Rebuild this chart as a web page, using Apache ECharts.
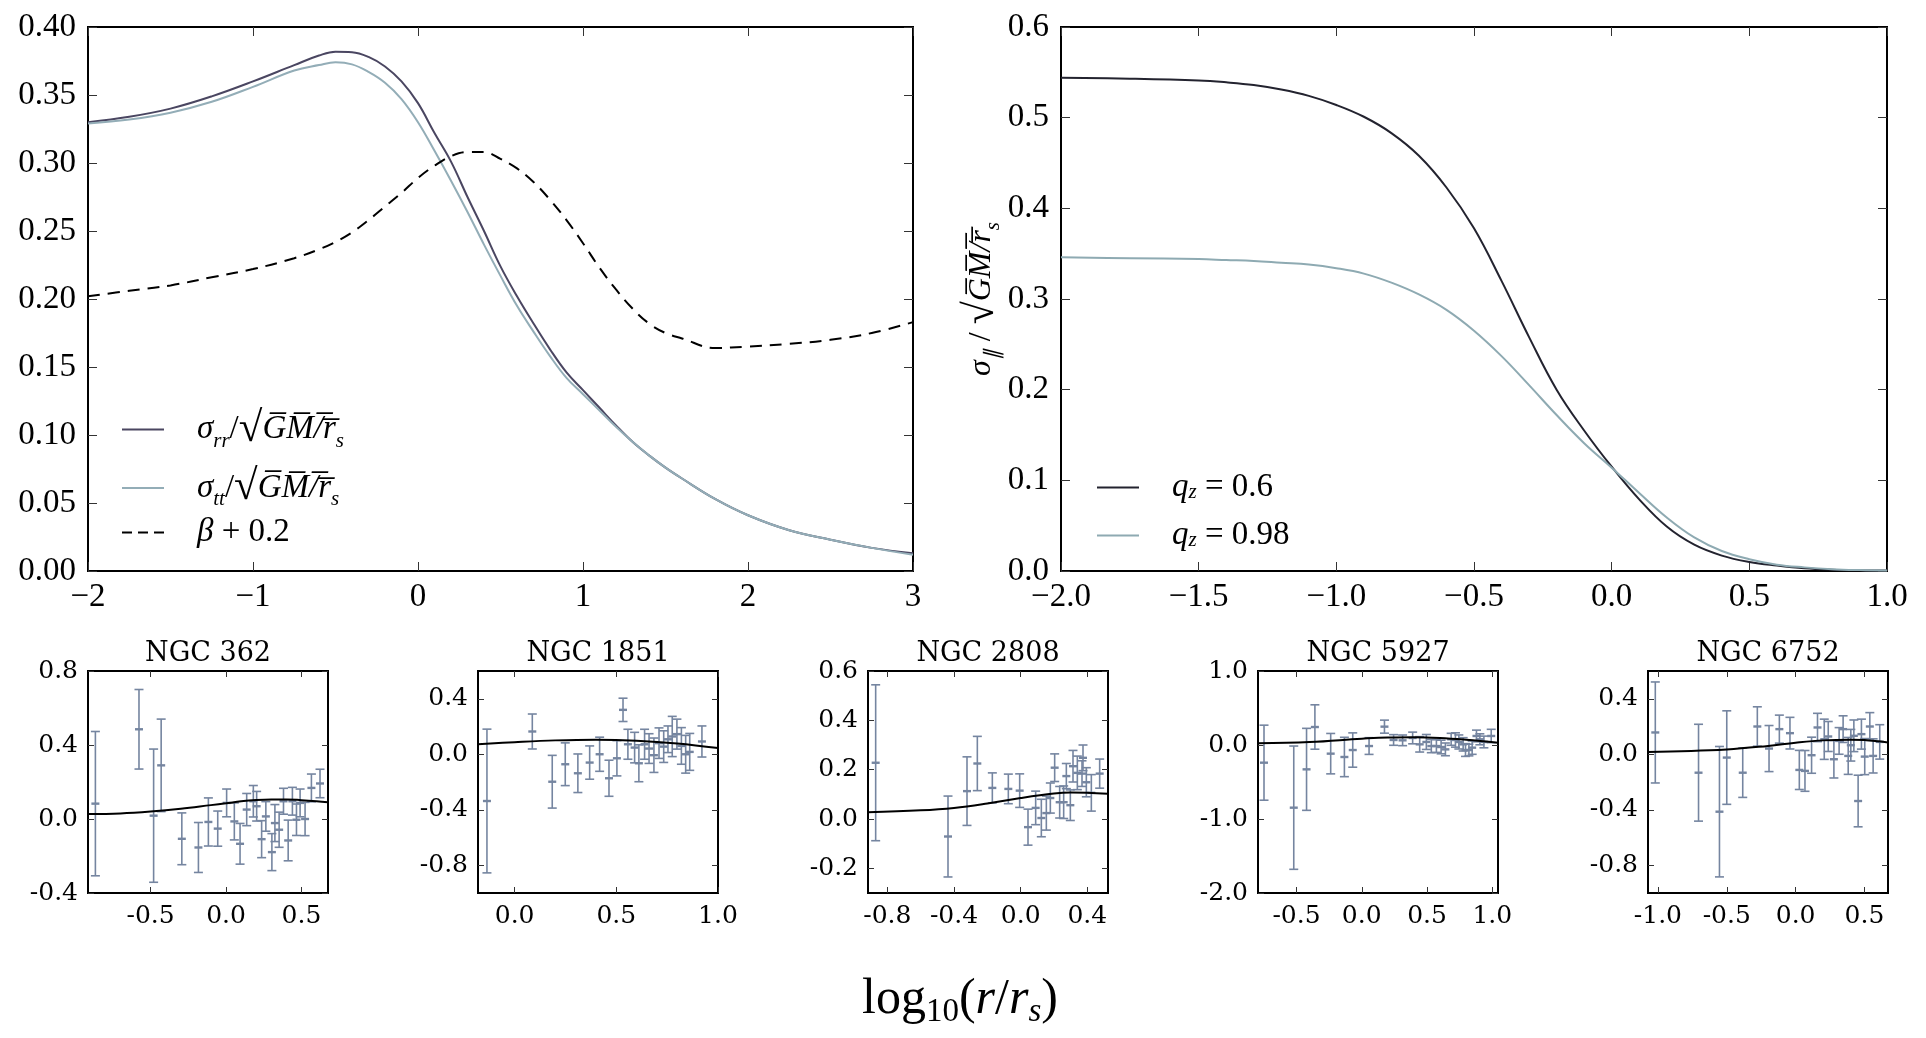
<!DOCTYPE html>
<html>
<head>
<meta charset="utf-8">
<script src="https://cdn.jsdelivr.net/npm/echarts@6/dist/echarts.min.js"></script>
<style>
  html, body { margin: 0; padding: 0; background: #fff; }
  #chart { width: 1926px; height: 1038px; }
</style>
</head>
<body>
<div id="chart"></div>
<script>
// ---- top left: dispersion profiles ----
const leftX = [-2, -1.75, -1.5, -1.25, -1, -0.75, -0.6, -0.5, -0.4, -0.3, -0.2, -0.1, 0, 0.1, 0.2, 0.3, 0.4, 0.5, 0.6, 0.7, 0.8, 0.9, 1.0, 1.1, 1.2, 1.3, 1.4, 1.5, 1.6, 1.8, 2.0, 2.25, 2.5, 2.75, 3.0];
const sigmaRR = [0.330, 0.334, 0.340, 0.349, 0.360, 0.372, 0.379, 0.3818, 0.3815, 0.378, 0.371, 0.360, 0.344, 0.322, 0.301, 0.275, 0.250, 0.224, 0.202, 0.182, 0.163, 0.146, 0.133, 0.120, 0.107, 0.095, 0.085, 0.076, 0.068, 0.053, 0.041, 0.030, 0.023, 0.017, 0.013];
const sigmaTT = [0.329, 0.332, 0.337, 0.345, 0.356, 0.368, 0.372, 0.374, 0.3725, 0.367, 0.359, 0.347, 0.330, 0.309, 0.287, 0.264, 0.240, 0.217, 0.195, 0.176, 0.158, 0.142, 0.130, 0.118, 0.106, 0.095, 0.085, 0.076, 0.068, 0.053, 0.041, 0.030, 0.023, 0.017, 0.012];
const betaPlus = [0.202, 0.206, 0.210, 0.216, 0.222, 0.230, 0.2365, 0.242, 0.249, 0.258, 0.268, 0.278, 0.289, 0.298, 0.305, 0.308, 0.308, 0.303, 0.296, 0.286, 0.273, 0.258, 0.241, 0.223, 0.207, 0.193, 0.182, 0.175, 0.171, 0.164, 0.165, 0.167, 0.170, 0.175, 0.183];

// ---- top right: line-of-sight dispersion ----
const rightX = [-2, -1.75, -1.5, -1.4, -1.3, -1.2, -1.1, -1, -0.9, -0.8, -0.7, -0.6, -0.5, -0.4, -0.3, -0.2, -0.1, 0, 0.1, 0.2, 0.3, 0.4, 0.5, 0.6, 0.7, 0.8, 0.9, 1.0];
const qz06 = [0.544, 0.543, 0.541, 0.539, 0.536, 0.531, 0.524, 0.514, 0.501, 0.483, 0.458, 0.423, 0.378, 0.320, 0.258, 0.200, 0.155, 0.115, 0.079, 0.049, 0.029, 0.017, 0.010, 0.006, 0.003, 0.0015, 0.0008, 0.0005];
const qz098 = [0.346, 0.345, 0.344, 0.343, 0.342, 0.340, 0.338, 0.334, 0.328, 0.318, 0.305, 0.288, 0.265, 0.237, 0.205, 0.172, 0.141, 0.114, 0.086, 0.059, 0.037, 0.022, 0.013, 0.007, 0.004, 0.002, 0.001, 0.0005];

// ---- bottom: clusters ----
const ngc362X = [-0.866, -0.577, -0.480, -0.430, -0.293, -0.183, -0.117, -0.055, 0.004, 0.055, 0.093, 0.137, 0.181, 0.203, 0.236, 0.264, 0.304, 0.324, 0.352, 0.381, 0.412, 0.440, 0.467, 0.491, 0.524, 0.566, 0.623];
const ngc362Y = [0.083, 0.485, 0.018, 0.290, -0.107, -0.154, -0.016, -0.052, 0.087, -0.013, -0.134, 0.051, 0.096, 0.069, -0.109, 0.014, -0.179, -0.022, -0.058, 0.096, -0.116, 0.096, -0.004, 0.087, 0.000, 0.168, 0.192];
const ngc362Err = [0.39, 0.215, 0.36, 0.25, 0.14, 0.135, 0.13, 0.095, 0.075, 0.10, 0.11, 0.087, 0.085, 0.08, 0.10, 0.08, 0.10, 0.10, 0.095, 0.07, 0.11, 0.075, 0.085, 0.075, 0.09, 0.075, 0.077];
const ngc362ModelX = [-0.915, -0.7, -0.5, -0.3, -0.1, 0.0, 0.1, 0.2, 0.3, 0.4, 0.5, 0.6, 0.676];
const ngc362ModelY = [0.027, 0.030, 0.040, 0.055, 0.075, 0.085, 0.096, 0.103, 0.106, 0.106, 0.102, 0.096, 0.090];

const ngc1851X = [-0.136, 0.087, 0.185, 0.249, 0.311, 0.369, 0.418, 0.464, 0.503, 0.533, 0.557, 0.590, 0.611, 0.639, 0.661, 0.685, 0.710, 0.733, 0.754, 0.775, 0.798, 0.820, 0.841, 0.861, 0.921];
const ngc1851Y = [-0.337, 0.164, -0.198, -0.072, -0.137, -0.060, 0.000, -0.173, -0.029, 0.320, 0.072, 0.048, -0.065, 0.072, 0.041, -0.007, 0.080, 0.055, 0.108, 0.128, 0.145, 0.060, 0.000, 0.017, 0.092];
const ngc1851Err = [0.518, 0.126, 0.19, 0.154, 0.139, 0.12, 0.123, 0.13, 0.127, 0.084, 0.108, 0.11, 0.133, 0.108, 0.107, 0.124, 0.11, 0.114, 0.096, 0.145, 0.108, 0.132, 0.136, 0.133, 0.112];
const ngc1851ModelX = [-0.18, 0.0, 0.2, 0.4, 0.6, 0.8, 1.0];
const ngc1851ModelY = [0.072, 0.087, 0.100, 0.105, 0.098, 0.078, 0.045];

const ngc2808X = [-0.870, -0.436, -0.322, -0.260, -0.170, -0.074, -0.006, 0.044, 0.090, 0.124, 0.154, 0.178, 0.204, 0.234, 0.258, 0.274, 0.298, 0.314, 0.340, 0.368, 0.374, 0.394, 0.424, 0.474];
const ngc2808Y = [0.228, -0.071, 0.113, 0.225, 0.126, 0.122, 0.115, -0.033, 0.045, 0.004, 0.024, 0.085, 0.208, 0.068, 0.068, 0.174, 0.056, 0.214, 0.187, 0.184, 0.248, 0.149, 0.106, 0.184];
const ngc2808Err = [0.316, 0.164, 0.139, 0.11, 0.061, 0.06, 0.068, 0.073, 0.068, 0.076, 0.069, 0.061, 0.056, 0.064, 0.066, 0.051, 0.062, 0.064, 0.068, 0.052, 0.052, 0.059, 0.074, 0.059];
const ngc2808ModelX = [-0.916, -0.6, -0.4, -0.2, 0.0, 0.2, 0.3, 0.4, 0.524];
const ngc2808ModelY = [0.027, 0.035, 0.045, 0.063, 0.085, 0.103, 0.107, 0.106, 0.102];

const ngc5927X = [-0.749, -0.521, -0.423, -0.359, -0.238, -0.133, -0.069, 0.056, 0.174, 0.244, 0.313, 0.390, 0.444, 0.495, 0.533, 0.572, 0.608, 0.641, 0.685, 0.718, 0.744, 0.777, 0.795, 0.821, 0.846, 0.879, 0.905, 0.936, 0.992];
const ngc5927Y = [-0.239, -0.847, -0.329, 0.243, -0.117, -0.162, -0.068, -0.014, 0.248, 0.068, 0.063, 0.095, 0.009, 0.041, -0.014, -0.014, -0.027, -0.059, 0.077, 0.068, 0.041, 0.009, -0.068, -0.068, -0.036, 0.122, 0.077, 0.041, 0.122];
const ngc5927Err = [0.507, 0.833, 0.554, 0.30, 0.273, 0.266, 0.232, 0.113, 0.088, 0.072, 0.072, 0.079, 0.104, 0.101, 0.09, 0.086, 0.092, 0.086, 0.081, 0.097, 0.095, 0.09, 0.086, 0.079, 0.09, 0.079, 0.074, 0.079, 0.09];
const ngc5927ModelX = [-0.795, -0.4, 0.0, 0.2, 0.4, 0.6, 0.8, 1.044];
const ngc5927ModelY = [0.025, 0.040, 0.085, 0.102, 0.105, 0.095, 0.070, 0.030];

const ngc6752X = [-1.019, -0.705, -0.553, -0.500, -0.384, -0.278, -0.193, -0.118, -0.041, 0.027, 0.068, 0.116, 0.159, 0.208, 0.237, 0.278, 0.316, 0.345, 0.382, 0.401, 0.423, 0.454, 0.478, 0.502, 0.539, 0.563, 0.611];
const ngc6752Y = [0.157, -0.133, -0.414, -0.024, -0.133, 0.200, 0.041, 0.181, 0.152, -0.113, -0.120, -0.007, 0.193, 0.108, 0.128, -0.036, 0.096, 0.181, -0.012, 0.065, 0.133, -0.337, 0.145, -0.017, 0.200, -0.012, 0.089];
const ngc6752Err = [0.364, 0.349, 0.47, 0.337, 0.178, 0.142, 0.166, 0.101, 0.114, 0.141, 0.147, 0.13, 0.102, 0.145, 0.108, 0.135, 0.096, 0.096, 0.133, 0.114, 0.114, 0.186, 0.108, 0.13, 0.10, 0.123, 0.124];
const ngc6752ModelX = [-1.072, -0.5, -0.2, 0.0, 0.2, 0.4, 0.5, 0.671];
const ngc6752ModelY = [0.017, 0.035, 0.060, 0.083, 0.100, 0.105, 0.102, 0.085];

// tick labels of the small panels
const ngc362XTicks = [-0.5, 0.0, 0.5];
const ngc362YTicks = [-0.4, 0.0, 0.4, 0.8];
const ngc1851XTicks = [0.0, 0.5, 1.0];
const ngc1851YTicks = [-0.8, -0.4, 0.0, 0.4];
const ngc2808XTicks = [-0.8, -0.4, 0.0, 0.4];
const ngc2808YTicks = [-0.2, 0.0, 0.2, 0.4, 0.6];
const ngc5927XTicks = [-0.5, 0.0, 0.5, 1.0];
const ngc5927YTicks = [-2.0, -1.0, 0.0, 1.0];
const ngc6752XTicks = [-1.0, -0.5, 0.0, 0.5];
const ngc6752YTicks = [-0.8, -0.4, 0.0, 0.4];

const MATH = "'Liberation Serif', serif";
const SERIF = "'DejaVu Serif', serif";
const ERR_COLOR = '#7585a0';

const zip = (xs, ys) => xs.map((x, i) => [x, ys[i]]);
const minus = (s) => s.replace('-', '\u2212');

const grids = [], xAxes = [], yAxes = [], series = [], titles = [];

// one framed panel with inward ticks on all four sides
function addPanel(p) {
  const gi = grids.length;
  grids.push({
    left: p.left, top: p.top, width: p.width, height: p.height,
    show: true, borderColor: '#000', borderWidth: 2, backgroundColor: 'transparent',
    outerBoundsMode: 'none'
  });
  const tick = (vals) => {
    const t = { show: true, inside: true, length: p.tickLen, lineStyle: { color: '#333', width: 1 } };
    if (vals) t.customValues = vals;
    return t;
  };
  const label = (vals, fmt, margin) => {
    const l = {
      show: true, margin: margin, color: '#000', fontFamily: p.font, fontSize: p.fontSize,
      formatter: fmt, showMinLabel: true, showMaxLabel: true, hideOverlap: false
    };
    if (vals) l.customValues = vals;
    return l;
  };
  const xi = xAxes.length, yi = yAxes.length;
  ['bottom', 'top'].forEach((pos, k) => {
    xAxes.push({
      type: 'value', gridIndex: gi, position: pos, min: p.xMin, max: p.xMax, interval: p.xInterval,
      axisLine: { show: false, onZero: false }, splitLine: { show: false },
      axisTick: tick(p.xTicks),
      axisLabel: k === 0 ? label(p.xTicks, p.xFmt, p.xMargin) : { show: false }
    });
  });
  ['left', 'right'].forEach((pos, k) => {
    const ax = {
      type: 'value', gridIndex: gi, position: pos, min: p.yMin, max: p.yMax, interval: p.yInterval,
      axisLine: { show: false, onZero: false }, splitLine: { show: false },
      axisTick: tick(p.yTicks),
      axisLabel: k === 0 ? label(p.yTicks, p.yFmt, p.yMargin) : { show: false }
    };
    if (k === 0 && p.yName) Object.assign(ax, p.yName);
    yAxes.push(ax);
  });
  return { xi: xi, yi: yi };
}

function lineSeries(ax, name, data, color, width, dashed) {
  return {
    type: 'line', name: name, xAxisIndex: ax.xi, yAxisIndex: ax.yi, data: data,
    symbol: 'none', smooth: 0.4, silent: true,
    lineStyle: { color: color, width: width, type: dashed ? [12, 8] : 'solid' },
    itemStyle: { color: color }
  };
}

function errSeries(ax, xs, ys, es) {
  return {
    type: 'custom', xAxisIndex: ax.xi, yAxisIndex: ax.yi, silent: true, clip: true,
    data: xs.map((x, i) => [x, ys[i], es[i]]),
    encode: { x: 0, y: 1 },
    renderItem: function (params, api) {
      const x = api.value(0), y = api.value(1), e = api.value(2);
      const c = api.coord([x, y]);
      const hi = api.coord([x, y + e]);
      const lo = api.coord([x, y - e]);
      const st = { stroke: ERR_COLOR, lineWidth: 1.6 };
      return {
        type: 'group',
        children: [
          { type: 'line', shape: { x1: c[0], y1: hi[1], x2: c[0], y2: lo[1] }, style: st },
          { type: 'line', shape: { x1: c[0] - 4.5, y1: hi[1], x2: c[0] + 4.5, y2: hi[1] }, style: st },
          { type: 'line', shape: { x1: c[0] - 4.5, y1: lo[1], x2: c[0] + 4.5, y2: lo[1] }, style: st },
          { type: 'line', shape: { x1: c[0] - 4, y1: c[1], x2: c[0] + 4, y2: c[1] }, style: { stroke: ERR_COLOR, lineWidth: 2.4 } }
        ]
      };
    }
  };
}

const mathRich = (size, tall, short) => ({
  g: { width: 28, lineHeight: 2, fontSize: 2 },
  it: { fontFamily: MATH, fontStyle: 'italic', fontSize: size, lineHeight: tall, color: '#000' },
  n: { fontFamily: MATH, fontSize: size, lineHeight: tall, color: '#000' },
  rad: { fontFamily: MATH, fontSize: Math.round(size * 1.3), lineHeight: tall, color: '#000' },
  sub: { fontFamily: MATH, fontStyle: 'italic', fontSize: Math.round(size * 0.65), lineHeight: tall - 16, verticalAlign: 'bottom', color: '#000' },
  sn: { fontFamily: MATH, fontSize: size, lineHeight: short, color: '#000' },
  si: { fontFamily: MATH, fontStyle: 'italic', fontSize: size, lineHeight: short, color: '#000' },
  ss: { fontFamily: MATH, fontStyle: 'italic', fontSize: Math.round(size * 0.65), lineHeight: Math.max(short - 16, 4), verticalAlign: 'bottom', color: '#000' }
});
const OVER = 'G\u0305M\u0305/\u0305r\u0305';

// top left
const tl = addPanel({
  left: 88, top: 27, width: 825, height: 544, tickLen: 9, font: MATH, fontSize: 33,
  xMin: -2, xMax: 3, xInterval: 1, yMin: 0, yMax: 0.4, yInterval: 0.05,
  xFmt: (v) => minus(v.toFixed(0)), yFmt: (v) => v.toFixed(2), xMargin: 10, yMargin: 12
});
series.push(lineSeries(tl, 'rr', zip(leftX, sigmaRR), '#4a4661', 2));
series.push(lineSeries(tl, 'tt', zip(leftX, sigmaTT), '#93adb7', 2));
series.push(lineSeries(tl, 'beta', zip(leftX, betaPlus), '#000', 2, true));

// top right
const tr = addPanel({
  left: 1061, top: 27, width: 826, height: 544, tickLen: 9, font: MATH, fontSize: 33,
  xMin: -2, xMax: 1, xInterval: 0.5, yMin: 0, yMax: 0.6, yInterval: 0.1,
  xFmt: (v) => minus(v.toFixed(1)), yFmt: (v) => v.toFixed(1), xMargin: 10, yMargin: 12,
  yName: {
    name: '{it|σ}{sub|∥}{n| / }{rad|√}{it|' + OVER + '}{sub|s}',
    nameLocation: 'middle', nameRotate: 90, nameGap: 56,
    nameTextStyle: { rich: mathRich(32, 44, 30) }
  }
});
series.push(lineSeries(tr, 'q06', zip(rightX, qz06), '#23232f', 2));
series.push(lineSeries(tr, 'q098', zip(rightX, qz098), '#8eaab2', 2));

// bottom row
const bottom = [
  { title: 'NGC 362', left: 88, xMin: -0.915, xMax: 0.676, yMin: -0.4, yMax: 0.8, xTicks: ngc362XTicks, yTicks: ngc362YTicks,
    px: ngc362X, py: ngc362Y, pe: ngc362Err, mx: ngc362ModelX, my: ngc362ModelY },
  { title: 'NGC 1851', left: 478, xMin: -0.18, xMax: 1.0, yMin: -1.0, yMax: 0.6, xTicks: ngc1851XTicks, yTicks: ngc1851YTicks,
    px: ngc1851X, py: ngc1851Y, pe: ngc1851Err, mx: ngc1851ModelX, my: ngc1851ModelY },
  { title: 'NGC 2808', left: 868, xMin: -0.916, xMax: 0.524, yMin: -0.3, yMax: 0.6, xTicks: ngc2808XTicks, yTicks: ngc2808YTicks,
    px: ngc2808X, py: ngc2808Y, pe: ngc2808Err, mx: ngc2808ModelX, my: ngc2808ModelY },
  { title: 'NGC 5927', left: 1258, xMin: -0.795, xMax: 1.044, yMin: -2.0, yMax: 1.0, xTicks: ngc5927XTicks, yTicks: ngc5927YTicks,
    px: ngc5927X, py: ngc5927Y, pe: ngc5927Err, mx: ngc5927ModelX, my: ngc5927ModelY },
  { title: 'NGC 6752', left: 1648, xMin: -1.072, xMax: 0.671, yMin: -1.0, yMax: 0.6, xTicks: ngc6752XTicks, yTicks: ngc6752YTicks,
    px: ngc6752X, py: ngc6752Y, pe: ngc6752Err, mx: ngc6752ModelX, my: ngc6752ModelY }
];

bottom.forEach((b) => {
  const ax = addPanel({
    left: b.left, top: 671, width: 240, height: 222, tickLen: 6, font: SERIF, fontSize: 25,
    xMin: b.xMin, xMax: b.xMax, yMin: b.yMin, yMax: b.yMax, xTicks: b.xTicks, yTicks: b.yTicks,
    xFmt: (v) => v.toFixed(1), yFmt: (v) => v.toFixed(1), xMargin: 11, yMargin: 10
  });
  series.push(errSeries(ax, b.px, b.py, b.pe));
  series.push(Object.assign(lineSeries(ax, b.title, zip(b.mx, b.my), '#000', 2), { z: 3 }));
  titles.push({
    text: b.title, left: b.left + 120, top: 640, textAlign: 'center', padding: 0,
    textStyle: { fontFamily: SERIF, fontSize: 27, fontWeight: 'normal', color: '#000' }
  });
});

const legendText = {
  rr: '{g|}{it|σ}{sub|rr}{n|/}{rad|√}{it|' + OVER + '}{sub|s}',
  tt: '{g|}{it|σ}{sub|tt}{n|/}{rad|√}{it|' + OVER + '}{sub|s}',
  beta: '{g|}{si|β}{sn| + 0.2}',
  q06: '{g|}{si|q}{ss|z}{sn| = 0.6}',
  q098: '{g|}{si|q}{ss|z}{sn| = 0.98}'
};
const SOLID_ICON = 'rect';
const DASH_ICON = 'path://M0,0h10v2h-10z M16,0h10v2h-10z M32,0h10v2h-10z';

const legendBase = {
  orient: 'vertical', itemWidth: 42, itemHeight: 2, itemGap: 15, selectedMode: false, padding: 0,
  formatter: (n) => legendText[n]
};

const chart = echarts.init(document.getElementById('chart'), null, { renderer: 'canvas' });
chart.setOption({
  backgroundColor: '#fff',
  animation: false,
  title: titles,
  grid: grids,
  xAxis: xAxes,
  yAxis: yAxes,
  legend: [
    Object.assign({}, legendBase, {
      data: [
        { name: 'rr', icon: SOLID_ICON, itemStyle: { color: '#4a4661' } },
        { name: 'tt', icon: SOLID_ICON, itemStyle: { color: '#93adb7' } }
      ],
      left: 122, top: 408, textStyle: { rich: mathRich(33, 44, 30) }
    }),
    Object.assign({}, legendBase, {
      data: [{ name: 'beta', icon: DASH_ICON, itemStyle: { color: '#000' } }],
      left: 122, top: 516, textStyle: { rich: mathRich(33, 44, 30) }
    }),
    Object.assign({}, legendBase, {
      data: [
        { name: 'q06', icon: SOLID_ICON, itemStyle: { color: '#23232f' } },
        { name: 'q098', icon: SOLID_ICON, itemStyle: { color: '#8eaab2' } }
      ],
      left: 1097, top: 471, textStyle: { rich: mathRich(33, 44, 30) }
    })
  ],
  graphic: [
    {
      type: 'text', x: 960, y: 1000, silent: true,
      style: {
        text: '{n|log}{sub|10}{n|(}{it|r}{n|/}{it|r}{si|s}{n|)}',
        align: 'center', verticalAlign: 'middle',
        rich: {
          n: { fontFamily: MATH, fontSize: 50, lineHeight: 58, color: '#000' },
          it: { fontFamily: MATH, fontStyle: 'italic', fontSize: 50, lineHeight: 58, color: '#000' },
          sub: { fontFamily: MATH, fontSize: 33, lineHeight: 40, verticalAlign: 'bottom', color: '#000' },
          si: { fontFamily: MATH, fontStyle: 'italic', fontSize: 33, lineHeight: 40, verticalAlign: 'bottom', color: '#000' }
        }
      }
    }
  ],
  series: series
});
</script>
</body>
</html>
